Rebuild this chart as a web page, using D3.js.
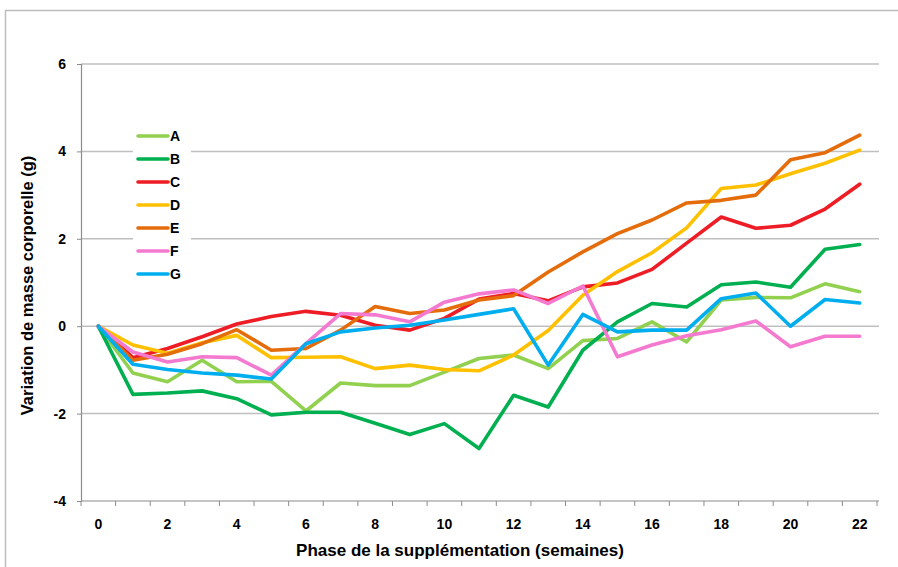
<!DOCTYPE html>
<html>
<head>
<meta charset="utf-8">
<script src="https://cdn.jsdelivr.net/npm/d3@7"></script>
<style>
  html, body { margin: 0; padding: 0; background: #fff; }
  svg { display: block; }
  text { font-family: "Liberation Sans", Arial, sans-serif; font-weight: bold; fill: #000; }
</style>
</head>
<body>
<svg id="chart" width="898" height="567"></svg>
<script>
// Weeks of supplementation
const weeks = d3.range(0, 23);

// Body-mass change (g) per group, one value per week
const seriesA = [0, -1.07, -1.27, -0.78, -1.27, -1.26, -1.94, -1.30, -1.36, -1.36, -1.05, -0.74, -0.66, -0.97, -0.33, -0.28, 0.10, -0.36, 0.60, 0.66, 0.65, 0.97, 0.79];
const seriesB = [0, -1.56, -1.53, -1.48, -1.66, -2.03, -1.97, -1.97, -2.22, -2.48, -2.23, -2.80, -1.58, -1.85, -0.55, 0.10, 0.52, 0.44, 0.95, 1.01, 0.89, 1.76, 1.87];
const seriesC = [0, -0.72, -0.51, -0.24, 0.05, 0.22, 0.34, 0.25, 0.02, -0.09, 0.18, 0.62, 0.75, 0.58, 0.90, 0.99, 1.30, 1.90, 2.50, 2.24, 2.31, 2.68, 3.25];
const seriesD = [0, -0.43, -0.62, -0.38, -0.21, -0.72, -0.71, -0.70, -0.97, -0.89, -0.99, -1.02, -0.66, -0.10, 0.71, 1.25, 1.68, 2.25, 3.15, 3.23, 3.49, 3.73, 4.03];
const seriesE = [0, -0.78, -0.64, -0.40, -0.08, -0.55, -0.51, -0.09, 0.45, 0.29, 0.37, 0.60, 0.70, 1.24, 1.70, 2.12, 2.43, 2.82, 2.88, 3.00, 3.81, 3.97, 4.37];
const seriesF = [0, -0.59, -0.82, -0.70, -0.72, -1.12, -0.40, 0.29, 0.26, 0.10, 0.55, 0.74, 0.83, 0.52, 0.92, -0.70, -0.43, -0.22, -0.08, 0.12, -0.47, -0.23, -0.23];
const seriesG = [0, -0.87, -0.99, -1.07, -1.12, -1.21, -0.40, -0.13, -0.04, 0.02, 0.14, 0.27, 0.40, -0.89, 0.27, -0.13, -0.09, -0.09, 0.63, 0.76, 0.00, 0.61, 0.53];

const groupNames = ["A", "B", "C", "D", "E", "F", "G"];
const groupColors = ["#92D050", "#00B050", "#EE1C25", "#FFC000", "#E46C0A", "#F47ACF", "#00AEEF"];
const groupValues = [seriesA, seriesB, seriesC, seriesD, seriesE, seriesF, seriesG];

const yTicks = [-4, -2, 0, 2, 4, 6];
const xTickLabels = d3.range(0, 23, 2);

const xTitle = "Phase de la supplémentation (semaines)";
const yTitle = "Variation de masse corporelle (g)";

const svg = d3.select("#chart");

// Chart area frame
svg.append("rect")
  .attr("x", 5.5).attr("y", 10.5)
  .attr("width", 920).attr("height", 600)
  .attr("fill", "#fff")
  .attr("stroke", "#BDBDBD").attr("stroke-width", 1.5);

const plot = { left: 81, right: 877, top: 64, bottom: 501 };

const x = d3.scaleLinear().domain([-0.5, 22.5]).range([plot.left, plot.right]);
const y = d3.scaleLinear().domain([-4, 6]).range([plot.bottom, plot.top]);

// Horizontal gridlines
svg.append("g")
  .selectAll("line")
  .data(yTicks.filter(t => t !== -4))
  .join("line")
  .attr("x1", plot.left).attr("x2", plot.right + 2)
  .attr("y1", d => y(d)).attr("y2", d => y(d))
  .attr("stroke", "#BFBFBF").attr("stroke-width", 1.5);

// Y axis
const yAxis = d3.axisLeft(y).tickValues(yTicks).tickSize(4).tickPadding(11).tickFormat(d3.format("d"));
const gy = svg.append("g").attr("transform", `translate(${plot.left},0)`).call(yAxis);
gy.select(".domain").attr("stroke", "#8C8C8C").attr("stroke-width", 1.2);
gy.selectAll(".tick line").attr("stroke", "#8C8C8C");
gy.selectAll(".tick text")
  .attr("font-size", 14)
  .attr("font-family", "'Liberation Sans', Arial, sans-serif")
  .attr("font-weight", "bold")
  .attr("fill", "#000")
  .text(d => d < 0 ? "-" + Math.abs(d) : d);

// X axis: category boundaries carry the tick marks, labels sit on every second week
const xAxisLine = svg.append("g").attr("transform", `translate(0,${plot.bottom})`);
xAxisLine.append("line")
  .attr("x1", plot.left).attr("x2", plot.right + 2)
  .attr("stroke", "#8C8C8C").attr("stroke-width", 1.2);
xAxisLine.selectAll("line.tk")
  .data(d3.range(0, 24))
  .join("line")
  .attr("class", "tk")
  .attr("x1", d => x(d - 0.5)).attr("x2", d => x(d - 0.5))
  .attr("y1", 0).attr("y2", 5)
  .attr("stroke", "#8C8C8C").attr("stroke-width", 1);
xAxisLine.selectAll("text")
  .data(xTickLabels)
  .join("text")
  .attr("x", d => x(d))
  .attr("y", 28)
  .attr("text-anchor", "middle")
  .attr("font-size", 14)
  .text(d => d);

// Axis titles
svg.append("text")
  .attr("x", 460)
  .attr("y", 556)
  .attr("text-anchor", "middle")
  .attr("font-size", 17)
  .text(xTitle);

svg.append("text")
  .attr("transform", `translate(33,${(plot.top + plot.bottom) / 2 + 3}) rotate(-90)`)
  .attr("text-anchor", "middle")
  .attr("font-size", 16.5)
  .text(yTitle);

// Group lines
const line = d3.line()
  .x((d, i) => x(weeks[i]))
  .y(d => y(d));

svg.append("g")
  .selectAll("path")
  .data(groupValues)
  .join("path")
  .attr("d", d => line(d))
  .attr("fill", "none")
  .attr("stroke", (d, i) => groupColors[i])
  .attr("stroke-width", 3.6)
  .attr("stroke-linejoin", "round")
  .attr("stroke-linecap", "round");

// Legend
const legend = svg.append("g");
legend.append("rect")
  .attr("x", 133).attr("y", 124)
  .attr("width", 58).attr("height", 162)
  .attr("fill", "#fff");
const rows = legend.selectAll("g.row")
  .data(groupNames)
  .join("g")
  .attr("class", "row")
  .attr("transform", (d, i) => `translate(0,${136 + i * 23})`);
rows.append("line")
  .attr("x1", 138).attr("x2", 168)
  .attr("stroke", (d, i) => groupColors[i])
  .attr("stroke-width", 3.6)
  .attr("stroke-linecap", "round");
rows.append("text")
  .attr("x", 170).attr("y", 5)
  .attr("font-size", 14)
  .text(d => d);
</script>
</body>
</html>
